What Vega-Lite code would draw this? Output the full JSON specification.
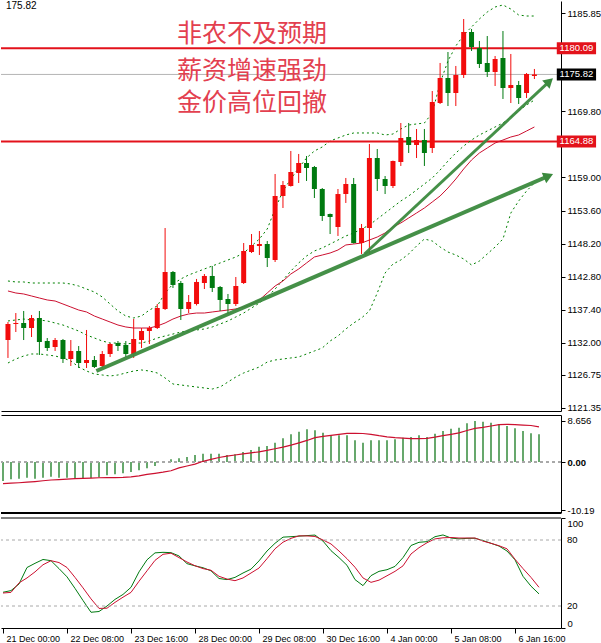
{
  "$schema": "https://vega.github.io/schema/vega-lite/v6.json",
  "padding": 0,
  "background": "white",
  "spacing": 2,
  "config": {
    "view": {"stroke": null},
    "font": "Liberation Sans",
    "axis": {"labelFont": "Liberation Sans", "labelFontSize": 9.5, "labelColor": "#000", "tickColor": "#000", "domainColor": "#000", "grid": false, "title": null, "labelOverlap": false}
  },
  "datasets": {
    "bars": [
      {"i":0,"o":1132.45,"h":1135.39,"l":1129.52,"c":1135.07,"u":1142.09,"m":1135.56,"b":1128.70,"ma":1140.46,"macd":-4.0,"sig":-4.55,"k":32.5,"d":31.8},
      {"i":1,"o":1135.07,"h":1136.86,"l":1133.76,"c":1135.23,"u":1141.93,"m":1135.72,"b":1129.35,"ma":1140.13,"macd":-3.66,"sig":-4.47,"k":34,"d":32.4},
      {"i":2,"o":1135.23,"h":1137.19,"l":1132.45,"c":1134.41,"u":1141.93,"m":1135.88,"b":1129.84,"ma":1139.97,"macd":-3.52,"sig":-4.38,"k":40,"d":41},
      {"i":3,"o":1134.41,"h":1136.54,"l":1132.94,"c":1136.05,"u":1141.76,"m":1135.72,"b":1130.17,"ma":1139.64,"macd":-3.31,"sig":-4.26,"k":55,"d":45.5},
      {"i":4,"o":1136.05,"h":1137.19,"l":1130.01,"c":1132.13,"u":1141.76,"m":1135.72,"b":1130.17,"ma":1139.31,"macd":-3.52,"sig":-4.12,"k":58.8,"d":51},
      {"i":5,"o":1132.29,"h":1132.78,"l":1130.66,"c":1131.15,"u":1141.76,"m":1135.56,"b":1130.01,"ma":1138.99,"macd":-3.31,"sig":-3.96,"k":62.3,"d":57.5},
      {"i":6,"o":1131.31,"h":1132.78,"l":1130.66,"c":1132.45,"u":1141.76,"m":1135.23,"b":1129.84,"ma":1138.82,"macd":-3.09,"sig":-3.80,"k":61.2,"d":61.2},
      {"i":7,"o":1132.45,"h":1132.62,"l":1128.70,"c":1129.35,"u":1141.76,"m":1134.90,"b":1129.52,"ma":1138.33,"macd":-3.31,"sig":-3.70,"k":54,"d":59.5},
      {"i":8,"o":1129.35,"h":1132.45,"l":1128.21,"c":1130.66,"u":1141.60,"m":1134.41,"b":1129.03,"ma":1137.84,"macd":-3.31,"sig":-3.60,"k":46.5,"d":55},
      {"i":9,"o":1130.66,"h":1131.47,"l":1127.88,"c":1128.70,"u":1141.27,"m":1133.92,"b":1128.05,"ma":1137.35,"macd":-3.38,"sig":-3.50,"k":36,"d":46},
      {"i":10,"o":1128.70,"h":1134.09,"l":1127.88,"c":1129.19,"u":1140.78,"m":1133.27,"b":1127.39,"ma":1137.03,"macd":-3.38,"sig":-3.44,"k":25,"d":36.5},
      {"i":11,"o":1129.19,"h":1129.84,"l":1127.88,"c":1128.05,"u":1140.29,"m":1132.78,"b":1126.90,"ma":1136.37,"macd":-3.38,"sig":-3.38,"k":14.3,"d":26.5},
      {"i":12,"o":1128.21,"h":1130.66,"l":1127.88,"c":1130.17,"u":1139.48,"m":1132.29,"b":1126.74,"ma":1135.88,"macd":-3.24,"sig":-3.32,"k":15,"d":17.8},
      {"i":13,"o":1130.17,"h":1131.96,"l":1129.68,"c":1131.80,"u":1138.33,"m":1131.96,"b":1126.58,"ma":1135.39,"macd":-2.81,"sig":-3.31,"k":20,"d":18},
      {"i":14,"o":1131.96,"h":1132.29,"l":1130.66,"c":1131.47,"u":1137.19,"m":1131.96,"b":1126.74,"ma":1134.90,"macd":-2.60,"sig":-3.31,"k":26,"d":23.3},
      {"i":15,"o":1131.64,"h":1132.29,"l":1129.68,"c":1130.17,"u":1136.37,"m":1131.80,"b":1127.07,"ma":1134.58,"macd":-2.39,"sig":-3.25,"k":30.5,"d":28},
      {"i":16,"o":1130.17,"h":1135.88,"l":1129.52,"c":1132.62,"u":1136.05,"m":1131.96,"b":1127.39,"ma":1134.41,"macd":-2.11,"sig":-3.13,"k":37,"d":32.4},
      {"i":17,"o":1132.45,"h":1134.41,"l":1131.15,"c":1133.92,"u":1136.37,"m":1131.96,"b":1127.56,"ma":1134.41,"macd":-1.76,"sig":-2.92,"k":51,"d":42.5},
      {"i":18,"o":1133.92,"h":1134.74,"l":1131.80,"c":1134.41,"u":1137.35,"m":1132.29,"b":1127.39,"ma":1134.41,"macd":-1.34,"sig":-2.62,"k":62,"d":52},
      {"i":19,"o":1134.41,"h":1138.33,"l":1134.25,"c":1137.68,"u":1138.01,"m":1132.78,"b":1127.07,"ma":1134.74,"macd":-0.84,"sig":-2.38,"k":68.3,"d":61.5},
      {"i":20,"o":1137.52,"h":1150.74,"l":1137.36,"c":1143.56,"u":1140.13,"m":1133.11,"b":1126.25,"ma":1135.23,"macd":-0.14,"sig":-2.15,"k":68.8,"d":67},
      {"i":21,"o":1143.56,"h":1143.72,"l":1140.95,"c":1141.44,"u":1141.60,"m":1133.43,"b":1125.27,"ma":1135.88,"macd":0.56,"sig":-1.85,"k":68.5,"d":68},
      {"i":22,"o":1141.76,"h":1142.09,"l":1135.72,"c":1137.52,"u":1142.42,"m":1133.76,"b":1125.11,"ma":1136.37,"macd":0.77,"sig":-1.25,"k":65.5,"d":64},
      {"i":23,"o":1137.52,"h":1139.80,"l":1136.86,"c":1138.66,"u":1143.07,"m":1133.92,"b":1124.94,"ma":1136.70,"macd":1.05,"sig":-0.85,"k":58.5,"d":60},
      {"i":24,"o":1138.33,"h":1142.42,"l":1138.10,"c":1141.93,"u":1143.56,"m":1134.09,"b":1124.78,"ma":1136.86,"macd":1.48,"sig":-0.45,"k":56.5,"d":56.6},
      {"i":25,"o":1141.76,"h":1143.23,"l":1140.78,"c":1142.91,"u":1144.05,"m":1134.25,"b":1124.62,"ma":1136.86,"macd":1.76,"sig":0.15,"k":54.8,"d":54},
      {"i":26,"o":1142.91,"h":1144.54,"l":1140.29,"c":1140.95,"u":1144.54,"m":1134.58,"b":1124.45,"ma":1137.03,"macd":1.76,"sig":0.56,"k":52,"d":52.5},
      {"i":27,"o":1141.11,"h":1141.27,"l":1137.19,"c":1138.99,"u":1145.03,"m":1135.07,"b":1124.78,"ma":1137.19,"macd":1.76,"sig":0.95,"k":45,"d":47},
      {"i":28,"o":1139.15,"h":1139.97,"l":1136.70,"c":1138.33,"u":1145.52,"m":1135.56,"b":1125.60,"ma":1137.35,"macd":1.48,"sig":1.25,"k":44,"d":44.5},
      {"i":29,"o":1138.33,"h":1142.74,"l":1138.01,"c":1141.27,"u":1146.01,"m":1136.21,"b":1126.41,"ma":1137.52,"macd":1.62,"sig":1.48,"k":46,"d":43},
      {"i":30,"o":1141.76,"h":1148.29,"l":1141.60,"c":1146.99,"u":1146.66,"m":1136.86,"b":1127.07,"ma":1137.84,"macd":2.11,"sig":1.70,"k":50,"d":45.5},
      {"i":31,"o":1146.82,"h":1149.76,"l":1146.66,"c":1147.97,"u":1147.80,"m":1137.68,"b":1127.56,"ma":1138.33,"macd":2.53,"sig":1.92,"k":53.5,"d":50},
      {"i":32,"o":1147.80,"h":1150.25,"l":1146.33,"c":1148.13,"u":1148.95,"m":1138.50,"b":1128.05,"ma":1138.99,"macd":3.24,"sig":2.15,"k":61,"d":54.5},
      {"i":33,"o":1148.13,"h":1148.62,"l":1144.37,"c":1145.84,"u":1150.58,"m":1139.48,"b":1128.86,"ma":1140.13,"macd":3.38,"sig":2.45,"k":70,"d":63},
      {"i":34,"o":1145.52,"h":1159.56,"l":1145.19,"c":1155.97,"u":1153.85,"m":1140.78,"b":1129.19,"ma":1141.27,"macd":4.08,"sig":2.80,"k":77,"d":72},
      {"i":35,"o":1155.97,"h":1158.42,"l":1154.01,"c":1157.76,"u":1156.78,"m":1142.25,"b":1129.35,"ma":1142.09,"macd":5.0,"sig":3.15,"k":82.6,"d":78},
      {"i":36,"o":1157.60,"h":1163.32,"l":1157.50,"c":1159.89,"u":1158.74,"m":1143.72,"b":1129.52,"ma":1143.23,"macd":5.84,"sig":3.55,"k":83,"d":81.5},
      {"i":37,"o":1159.72,"h":1162.83,"l":1158.09,"c":1161.36,"u":1160.54,"m":1145.03,"b":1129.68,"ma":1144.05,"macd":6.4,"sig":4.05,"k":83.5,"d":83.8},
      {"i":38,"o":1161.36,"h":1162.50,"l":1158.42,"c":1160.54,"u":1162.17,"m":1146.17,"b":1130.17,"ma":1145.03,"macd":6.9,"sig":4.55,"k":84,"d":83.7},
      {"i":39,"o":1160.70,"h":1160.87,"l":1155.64,"c":1157.11,"u":1163.32,"m":1146.99,"b":1130.66,"ma":1146.01,"macd":6.68,"sig":5.13,"k":84.5,"d":83.2},
      {"i":40,"o":1157.11,"h":1157.27,"l":1151.89,"c":1152.70,"u":1163.97,"m":1147.48,"b":1131.15,"ma":1146.33,"macd":6.19,"sig":5.40,"k":79,"d":80},
      {"i":41,"o":1153.03,"h":1153.10,"l":1149.76,"c":1152.54,"u":1164.95,"m":1148.13,"b":1132.29,"ma":1146.66,"macd":5.70,"sig":5.63,"k":70.3,"d":76.4},
      {"i":42,"o":1150.91,"h":1157.11,"l":1149.44,"c":1156.29,"u":1165.44,"m":1148.78,"b":1133.11,"ma":1147.15,"macd":5.63,"sig":5.85,"k":64,"d":70},
      {"i":43,"o":1156.29,"h":1158.91,"l":1154.83,"c":1157.93,"u":1165.93,"m":1149.44,"b":1134.25,"ma":1147.97,"macd":5.63,"sig":6.05,"k":57,"d":63},
      {"i":44,"o":1157.93,"h":1158.91,"l":1148.20,"c":1148.29,"u":1166.26,"m":1149.93,"b":1135.23,"ma":1148.13,"macd":4.57,"sig":6.05,"k":44,"d":55.2},
      {"i":45,"o":1148.29,"h":1151.40,"l":1146.50,"c":1150.74,"u":1166.26,"m":1150.58,"b":1136.05,"ma":1148.29,"macd":4.08,"sig":6.02,"k":38.5,"d":45.5},
      {"i":46,"o":1150.74,"h":1164.46,"l":1146.50,"c":1162.17,"u":1166.26,"m":1151.23,"b":1137.19,"ma":1148.78,"macd":4.57,"sig":5.85,"k":47.6,"d":41.5},
      {"i":47,"o":1162.17,"h":1163.64,"l":1156.78,"c":1158.74,"u":1166.26,"m":1152.21,"b":1140.13,"ma":1149.27,"macd":4.57,"sig":5.55,"k":51.5,"d":43.5},
      {"i":48,"o":1158.74,"h":1159.23,"l":1156.29,"c":1157.60,"u":1165.93,"m":1153.19,"b":1143.40,"ma":1149.93,"macd":4.57,"sig":5.30,"k":53,"d":47.5},
      {"i":49,"o":1157.60,"h":1161.75,"l":1157.27,"c":1161.68,"u":1166.09,"m":1154.17,"b":1144.86,"ma":1150.91,"macd":4.78,"sig":5.13,"k":56,"d":51.5},
      {"i":50,"o":1161.52,"h":1167.89,"l":1160.87,"c":1165.44,"u":1166.91,"m":1155.15,"b":1145.52,"ma":1151.56,"macd":5.13,"sig":5.02,"k":64,"d":56.5},
      {"i":51,"o":1165.60,"h":1167.89,"l":1162.99,"c":1164.30,"u":1167.56,"m":1155.97,"b":1146.50,"ma":1152.38,"macd":5.28,"sig":4.92,"k":75,"d":67.3},
      {"i":52,"o":1164.30,"h":1166.91,"l":1162.17,"c":1165.11,"u":1167.73,"m":1156.95,"b":1147.80,"ma":1153.19,"macd":5.63,"sig":4.95,"k":77.9,"d":73},
      {"i":53,"o":1165.11,"h":1166.91,"l":1160.87,"c":1162.99,"u":1167.89,"m":1157.93,"b":1148.95,"ma":1154.01,"macd":5.28,"sig":4.99,"k":78.5,"d":77.5},
      {"i":54,"o":1163.81,"h":1173.11,"l":1162.99,"c":1171.32,"u":1169.52,"m":1158.91,"b":1148.62,"ma":1154.99,"macd":5.98,"sig":5.25,"k":83,"d":81},
      {"i":55,"o":1171.15,"h":1177.69,"l":1170.99,"c":1175.24,"u":1174.42,"m":1160.21,"b":1147.64,"ma":1155.97,"macd":6.54,"sig":5.55,"k":84.6,"d":82},
      {"i":56,"o":1175.24,"h":1179.48,"l":1170.66,"c":1172.79,"u":1178.01,"m":1161.68,"b":1146.82,"ma":1157.27,"macd":7.03,"sig":5.85,"k":81.8,"d":82.3},
      {"i":57,"o":1172.79,"h":1177.20,"l":1170.66,"c":1175.73,"u":1180.46,"m":1162.99,"b":1146.33,"ma":1158.74,"macd":7.24,"sig":6.15,"k":81,"d":81.8},
      {"i":58,"o":1175.73,"h":1184.87,"l":1175.24,"c":1182.75,"u":1182.26,"m":1164.13,"b":1145.68,"ma":1160.38,"macd":8.16,"sig":6.65,"k":81.5,"d":81.8},
      {"i":59,"o":1182.75,"h":1183.24,"l":1179.65,"c":1180.30,"u":1183.56,"m":1165.11,"b":1144.70,"ma":1161.85,"macd":8.66,"sig":7.10,"k":81.6,"d":81.8},
      {"i":60,"o":1180.14,"h":1181.28,"l":1176.87,"c":1177.52,"u":1184.87,"m":1165.93,"b":1145.35,"ma":1162.99,"macd":8.51,"sig":7.30,"k":79.5,"d":79},
      {"i":61,"o":1177.69,"h":1182.09,"l":1175.40,"c":1176.22,"u":1186.01,"m":1166.58,"b":1146.50,"ma":1163.81,"macd":8.30,"sig":7.60,"k":77,"d":77},
      {"i":62,"o":1176.22,"h":1178.83,"l":1173.93,"c":1178.34,"u":1186.83,"m":1167.24,"b":1147.64,"ma":1164.62,"macd":7.95,"sig":7.90,"k":74.5,"d":74.8},
      {"i":63,"o":1178.50,"h":1182.91,"l":1171.81,"c":1173.60,"u":1187.16,"m":1167.89,"b":1148.95,"ma":1165.11,"macd":7.60,"sig":7.95,"k":70,"d":72},
      {"i":64,"o":1173.60,"h":1179.16,"l":1171.15,"c":1174.09,"u":1186.50,"m":1168.87,"b":1153.19,"ma":1165.60,"macd":7.10,"sig":7.90,"k":62,"d":62.5},
      {"i":65,"o":1174.09,"h":1174.75,"l":1170.99,"c":1171.97,"u":1185.52,"m":1169.85,"b":1155.15,"ma":1165.93,"macd":6.54,"sig":7.80,"k":47,"d":54},
      {"i":66,"o":1172.79,"h":1176.05,"l":1171.97,"c":1175.89,"u":1185.36,"m":1170.83,"b":1156.78,"ma":1166.58,"macd":6.05,"sig":7.70,"k":38,"d":46},
      {"i":67,"o":1175.56,"h":1176.71,"l":1175.07,"c":1175.82,"u":1185.36,"m":1171.64,"b":1158.09,"ma":1167.24,"macd":5.84,"sig":7.40,"k":31,"d":37}
    ],
    "levels": [
      {"v": 1180.09, "kind": "level"},
      {"v": 1164.88, "kind": "level"},
      {"v": 1175.82, "kind": "bid"}
    ],
    "stochLevels": [{"v": 80}, {"v": 20}],
    "arrows": [
      {"a": "long", "x": 11.25, "y": 1127.39, "x2": 68.8, "y2": 1159.23},
      {"a": "short", "x": 45.375, "y": 1146.5, "x2": 68.91, "y2": 1174.68}
    ],
    "notes": [
      {"t": "非农不及预期", "x": 21.5, "y": 1182.4},
      {"t": "薪资增速强劲", "x": 21.5, "y": 1176.3},
      {"t": "金价高位回撤", "x": 21.5, "y": 1171.1}
    ],
    "corner": [{"t": "175.82", "x": -0.25, "y": 1187.0}]
  },
  "vconcat": [
    {
      "width": 560,
      "height": 410,
      "layer": [
        {
          "data": {"name": "bars"},
          "mark": {"type": "line", "color": "#008000", "strokeWidth": 1, "strokeDash": [2, 3]},
          "encoding": {
            "x": {"field": "i", "type": "quantitative", "scale": {"domain": [-0.25, 69.75], "nice": false, "zero": false},
                  "axis": {"orient": "bottom", "labels": false, "ticks": false, "domain": true, "domainWidth": 1}},
            "y": {"field": "u", "type": "quantitative", "scale": {"domain": [1120.86, 1187.81], "nice": false, "zero": false},
                  "axis": {"orient": "right", "values": [1185.85, 1169.8, 1159.0, 1153.6, 1148.2, 1142.8, 1137.4, 1132.0, 1126.75, 1121.35], "format": ".2f", "tickSize": 4, "labelPadding": 2}}
          }
        },
        {
          "data": {"name": "levels"},
          "transform": [{"filter": "datum.kind == 'bid'"}],
          "mark": {"type": "rule", "color": "#b4b4b4", "strokeWidth": 1},
          "encoding": {"y": {"field": "v", "type": "quantitative"}}
        },
        {
          "data": {"name": "levels"},
          "transform": [{"filter": "datum.kind == 'level'"}],
          "mark": {"type": "rule", "color": "#e3121b", "strokeWidth": 2},
          "encoding": {"y": {"field": "v", "type": "quantitative"}}
        },
        {
          "data": {"name": "bars"},
          "mark": {"type": "line", "color": "#008000", "strokeWidth": 1, "strokeDash": [2, 3]},
          "encoding": {"x": {"field": "i", "type": "quantitative"}, "y": {"field": "m", "type": "quantitative"}}
        },
        {
          "data": {"name": "bars"},
          "mark": {"type": "line", "color": "#008000", "strokeWidth": 1, "strokeDash": [2, 3]},
          "encoding": {"x": {"field": "i", "type": "quantitative"}, "y": {"field": "b", "type": "quantitative"}}
        },
        {
          "data": {"name": "bars"},
          "mark": {"type": "line", "color": "#cc1030", "strokeWidth": 1},
          "encoding": {"x": {"field": "i", "type": "quantitative"}, "y": {"field": "ma", "type": "quantitative"}}
        },
        {
          "data": {"name": "bars"},
          "mark": {"type": "rule", "strokeWidth": 1},
          "encoding": {
            "x": {"field": "i", "type": "quantitative"},
            "y": {"field": "l", "type": "quantitative"},
            "y2": {"field": "h"},
            "color": {"condition": {"test": "datum.c >= datum.o", "value": "#f20c0c"}, "value": "#007a10"}
          }
        },
        {
          "data": {"name": "bars"},
          "mark": {"type": "bar", "width": 5},
          "encoding": {
            "x": {"field": "i", "type": "quantitative"},
            "y": {"field": "o", "type": "quantitative"},
            "y2": {"field": "c"},
            "color": {"condition": {"test": "datum.c >= datum.o", "value": "#f20c0c"}, "value": "#007a10"}
          }
        },
        {
          "data": {"name": "arrows"},
          "transform": [{"filter": "datum.a == 'long'"}],
          "mark": {"type": "rule", "color": "#3b8a3e", "strokeWidth": 4, "opacity": 0.95},
          "encoding": {
            "x": {"field": "x", "type": "quantitative"}, "y": {"field": "y", "type": "quantitative"},
            "x2": {"field": "x2"}, "y2": {"field": "y2"}
          }
        },
        {
          "data": {"name": "arrows"},
          "transform": [{"filter": "datum.a == 'short'"}],
          "mark": {"type": "rule", "color": "#3b8a3e", "strokeWidth": 3, "opacity": 0.95},
          "encoding": {
            "x": {"field": "x", "type": "quantitative"}, "y": {"field": "y", "type": "quantitative"},
            "x2": {"field": "x2"}, "y2": {"field": "y2"}
          }
        },
        {
          "data": {"name": "arrows"},
          "transform": [{"filter": "datum.a == 'long'"}],
          "mark": {"type": "point", "shape": "triangle-up", "filled": true, "size": 130, "angle": 67, "color": "#3b8a3e", "opacity": 1},
          "encoding": {"x": {"field": "x2", "type": "quantitative"}, "y": {"field": "y2", "type": "quantitative"}}
        },
        {
          "data": {"name": "arrows"},
          "transform": [{"filter": "datum.a == 'short'"}],
          "mark": {"type": "point", "shape": "triangle-up", "filled": true, "size": 120, "angle": 47.5, "color": "#3b8a3e", "opacity": 1},
          "encoding": {"x": {"field": "x2", "type": "quantitative"}, "y": {"field": "y2", "type": "quantitative"}}
        },
        {
          "data": {"name": "notes"},
          "mark": {"type": "text", "font": "Noto Sans CJK SC", "fontSize": 25, "color": "#e3404f", "align": "left", "baseline": "middle"},
          "encoding": {"x": {"field": "x", "type": "quantitative"}, "y": {"field": "y", "type": "quantitative"}, "text": {"field": "t"}}
        },
        {
          "data": {"name": "corner"},
          "mark": {"type": "text", "fontSize": 10, "color": "#000", "align": "left", "baseline": "middle"},
          "encoding": {"x": {"field": "x", "type": "quantitative"}, "y": {"field": "y", "type": "quantitative"}, "text": {"field": "t"}}
        },
        {
          "data": {"name": "levels"},
          "mark": {"type": "rect", "yOffset": -6, "y2Offset": 6},
          "encoding": {
            "x": {"datum": 69.85, "type": "quantitative"},
            "x2": {"datum": 74.85},
            "y": {"field": "v", "type": "quantitative"},
            "y2": {"field": "v"},
            "color": {"field": "kind", "type": "nominal", "scale": {"domain": ["level", "bid"], "range": ["#e3121b", "#000000"]}, "legend": null}
          }
        },
        {
          "data": {"name": "levels"},
          "mark": {"type": "text", "fontSize": 9.5, "color": "#ffffff", "align": "center", "baseline": "middle"},
          "encoding": {
            "x": {"datum": 72.35, "type": "quantitative"},
            "y": {"field": "v", "type": "quantitative"},
            "text": {"field": "v", "type": "quantitative", "format": ".2f"}
          }
        }
      ]
    },
    {
      "width": 560,
      "height": 98,
      "data": {"name": "bars"},
      "layer": [
        {
          "mark": {"type": "rule", "color": "#006e0a", "strokeWidth": 1.2},
          "encoding": {
            "x": {"field": "i", "type": "quantitative", "scale": {"domain": [-0.25, 69.75], "nice": false, "zero": false},
                  "axis": {"orient": "top", "labels": false, "ticks": false, "domain": true}},
            "y": {"field": "macd", "type": "quantitative", "scale": {"domain": [-10.76, 9.92], "nice": false, "zero": false},
                  "axis": {"orient": "right", "values": [8.656, 0, -10.19], "tickSize": 4, "labelPadding": 2,
                           "labelFontWeight": {"condition": {"test": "datum.value == 0", "value": "bold"}, "value": "normal"},
                           "labelExpr": "datum.value > 5 ? '8.656' : (datum.value < -5 ? '-10.19' : '0.00')"}},
            "y2": {"datum": 0}
          }
        },
        {
          "mark": {"type": "rule", "color": "#a8a8a8", "strokeDash": [3, 3], "strokeWidth": 1},
          "encoding": {"y": {"datum": 0, "type": "quantitative"}}
        },
        {
          "mark": {"type": "rule", "color": "#000", "strokeWidth": 1},
          "encoding": {"y": {"datum": -10.76, "type": "quantitative"}}
        },
        {
          "mark": {"type": "line", "color": "#cc1030", "strokeWidth": 1.2},
          "encoding": {"x": {"field": "i", "type": "quantitative"}, "y": {"field": "sig", "type": "quantitative"}}
        }
      ]
    },
    {
      "width": 560,
      "height": 110,
      "layer": [
        {
          "data": {"name": "bars"},
          "mark": {"type": "line", "color": "#007a10", "strokeWidth": 1},
          "encoding": {
            "x": {"field": "i", "type": "quantitative", "scale": {"domain": [-0.25, 69.75], "nice": false, "zero": false},
                  "axis": {"orient": "bottom", "values": [0, 8, 16, 24, 32, 40, 48, 56, 64], "tickSize": 5, "labelPadding": 1,
                           "labelAlign": "left", "labelOffset": 3, "labelFontSize": 9, "labelFlush": false,
                           "labelExpr": "['21 Dec 00:00','22 Dec 08:00','23 Dec 16:00','28 Dec 00:00','29 Dec 08:00','30 Dec 16:00','4 Jan 00:00','5 Jan 08:00','6 Jan 16:00'][round(datum.value / 8)]"}},
            "y": {"field": "k", "type": "quantitative", "scale": {"domain": [0, 100], "nice": false},
                  "axis": {"orient": "right", "values": [0, 20, 80, 100], "tickSize": 4, "labelPadding": 2, "labelFlush": false, "labelOverlap": false,
                           "labelExpr": "datum.value == 100 || datum.value == 0 ? '' + datum.value : ''",
                           "labelBaseline": {"condition": [{"test": "datum.value == 100", "value": "top"}, {"test": "datum.value == 0", "value": "bottom"}], "value": "middle"}}}
          }
        },
        {
          "data": {"name": "bars"},
          "mark": {"type": "line", "color": "#cc1030", "strokeWidth": 1},
          "encoding": {"x": {"field": "i", "type": "quantitative"}, "y": {"field": "d", "type": "quantitative"}}
        },
        {
          "data": {"name": "stochLevels"},
          "mark": {"type": "rule", "color": "#a8a8a8", "strokeDash": [3, 3], "strokeWidth": 1},
          "encoding": {"y": {"field": "v", "type": "quantitative"}}
        },
        {
          "data": {"name": "stochLevels"},
          "mark": {"type": "text", "fontSize": 9.5, "color": "#000", "align": "left", "baseline": "middle"},
          "encoding": {
            "x": {"datum": 70.5, "type": "quantitative"},
            "y": {"field": "v", "type": "quantitative"},
            "text": {"field": "v", "type": "quantitative", "format": "d"}
          }
        },
        {
          "data": {"name": "stochLevels"},
          "transform": [{"filter": "datum.v == 80"}],
          "mark": {"type": "rule", "color": "#000", "strokeWidth": 1, "yOffset": -22},
          "encoding": {"y": {"field": "v", "type": "quantitative"}}
        }
      ]
    }
  ]
}
